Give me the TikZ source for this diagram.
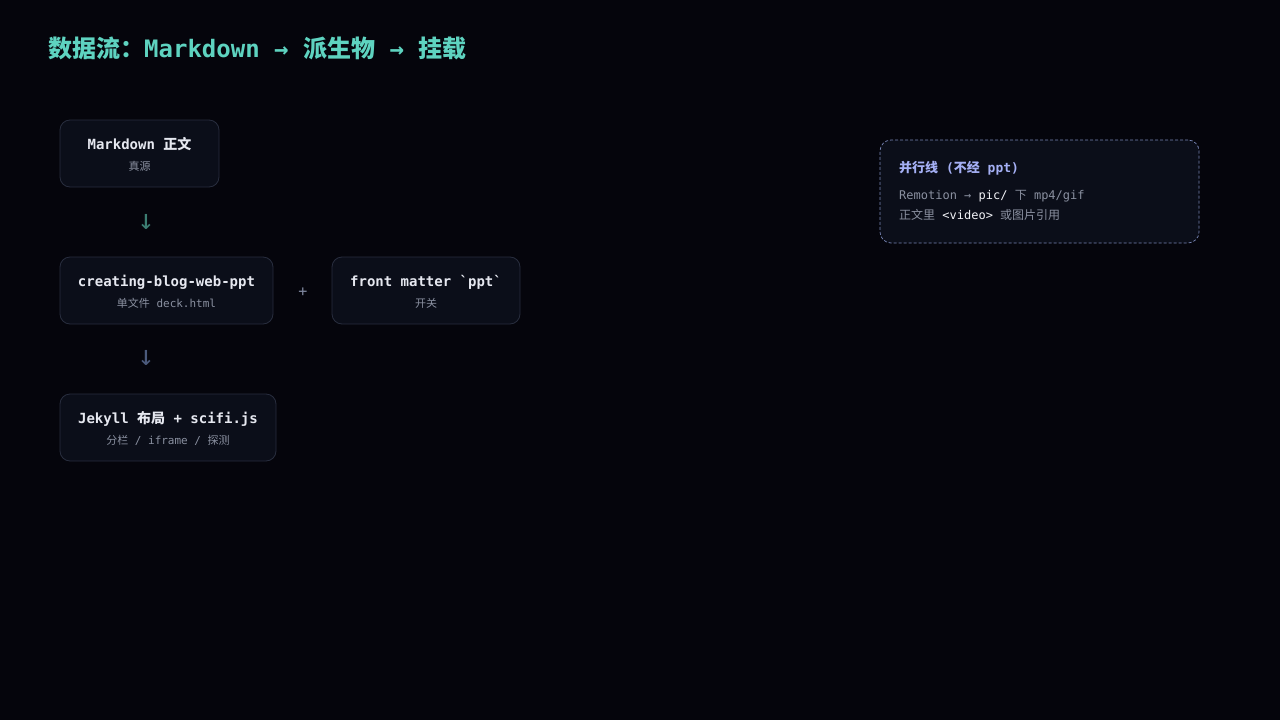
\documentclass[tikz,border=0pt]{standalone}
\usepackage{fontspec}
\setmainfont{DejaVu Sans Mono}[Ligatures=TeXOff]
\newfontfamily\cjk{Noto Sans CJK SC}
\usepackage{xcolor}
\usetikzlibrary{positioning}

\definecolor{bgdark}{HTML}{05050C}
\definecolor{boxfill}{HTML}{0B0E19}
\definecolor{boxline}{HTML}{282D3E}
\definecolor{maintext}{HTML}{E6E8F0}
\definecolor{subtext}{HTML}{8A90A0}
\definecolor{headteal}{HTML}{5ED3C0}
\definecolor{arrowteal}{HTML}{3C7D72}
\definecolor{arrowslate}{HTML}{4B5A7C}
\definecolor{plusgray}{HTML}{8088A0}
\definecolor{dashline}{HTML}{7885B5}
\definecolor{lavender}{HTML}{A5B0F5}
\definecolor{hiwhite}{HTML}{F2F3F7}

\begin{document}
\begin{tikzpicture}[x=1pt,y=-1pt]
  \tikzset{
    stage/.style={
      draw=boxline,
      fill=boxfill,
      rounded corners=10pt,
      line width=0.8pt,
      minimum height=67pt,
      inner sep=0pt
    },
    stagetitle/.style={
      anchor=base,
      inner sep=0pt,
      text=maintext,
      font=\fontsize{14}{16}\selectfont\bfseries
    },
    stagesub/.style={
      anchor=base,
      inner sep=0pt,
      text=subtext,
      font=\fontsize{11}{13}\selectfont
    },
    flowarrow/.style={
      inner sep=0pt,
      font=\fontsize{28}{30}\selectfont
    },
    sideline/.style={
      anchor=base west,
      inner sep=0pt,
      text=subtext,
      font=\fontsize{12}{14}\selectfont
    }
  }

  % Background
  \fill[bgdark] (0,0) rectangle (1280,720);
  \useasboundingbox (0,0) rectangle (1280,720);

  % Heading
  \node[anchor=base west, inner sep=0pt, text=headteal,
        font=\fontsize{24}{28}\selectfont\bfseries] (head) at (48,57)
    {{\cjk 数据流：}Markdown → {\cjk 派生物} → {\cjk 挂载}};

  % Stages
  \node[stage, minimum width=159pt] (md) at (139.5,153.5) {};
  \node[stagetitle] (mdtitle) at ([yshift=4.5pt]md.center) {Markdown {\cjk 正文}};
  \node[stagesub] (mdsub) at ([yshift=-16.5pt]md.center) {\cjk 真源};

  \node[stage, minimum width=213pt] (skill) at (166.5,290.5) {};
  \node[stagetitle] (skilltitle) at ([yshift=4.5pt]skill.center) {creating-blog-web-ppt};
  \node[stagesub] (skillsub) at ([yshift=-16.5pt]skill.center) {{\cjk 单文件} deck.html};

  \node[stage, minimum width=188pt] (front) at (426,290.5) {};
  \node[stagetitle] (fronttitle) at ([yshift=4.5pt]front.center) {front matter `ppt`};
  \node[stagesub] (frontsub) at ([yshift=-16.5pt]front.center) {\cjk 开关};

  \node[stage, minimum width=216pt] (jekyll) at (168,427.5) {};
  \node[stagetitle] (jekylltitle) at ([yshift=4.5pt]jekyll.center) {Jekyll {\cjk 布局} + scifi.js};
  \node[stagesub] (jekyllsub) at ([yshift=-16.5pt]jekyll.center) {{\cjk 分栏} / iframe / {\cjk 探测}};

  % Arrows between stages
  \node[flowarrow, text=arrowteal] (down1) at (146,222) {↓};
  \node[flowarrow, text=arrowslate] (down2) at (146,358) {↓};
  \node[inner sep=0pt, text=plusgray, font=\fontsize{15}{17}\selectfont] (plus) at (303,292) {+};

  % Parallel line
  \node[draw=dashline, dash pattern=on 3pt off 2pt, fill=boxfill, rounded corners=11pt,
        line width=0.7pt, minimum width=319pt, minimum height=103pt, inner sep=0pt]
    (side) at (1039.5,191.5) {};
  \node[anchor=base west, inner sep=0pt, text=lavender,
        font=\fontsize{13}{15}\selectfont\bfseries] (sidetitle) at (899,172)
    {{\cjk 并行线} ({\cjk 不经} ppt)};
  \node[sideline] (sideone) at (899,199)
    {Remotion → {\color{hiwhite}pic/} {\cjk 下} mp4/gif};
  \node[sideline] (sidetwo) at (899,219)
    {{\cjk 正文里} {\color{hiwhite}<video>} {\cjk 或图片引用}};
\end{tikzpicture}
\end{document}
